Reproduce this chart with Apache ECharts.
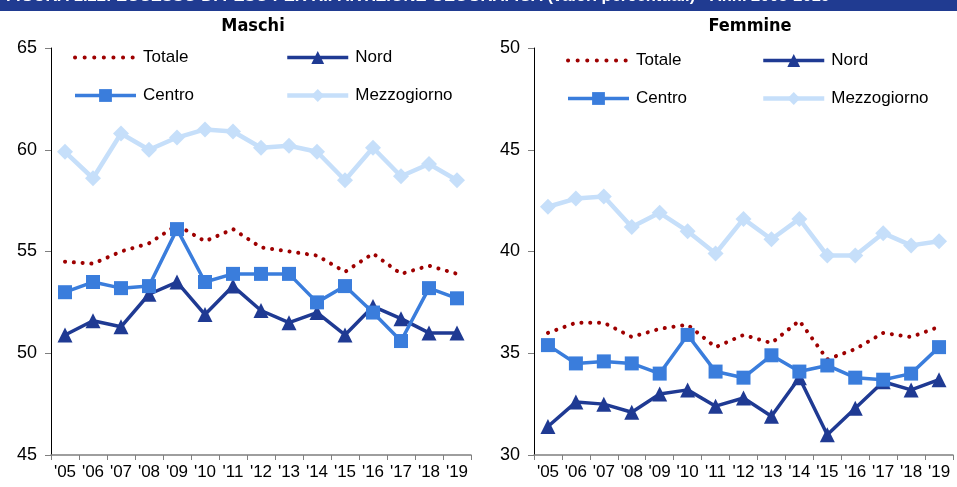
<!DOCTYPE html>
<html>
<head>
<meta charset="utf-8">
<script src="https://cdn.jsdelivr.net/npm/echarts@6/dist/echarts.min.js"></script>
<style>
  html, body { margin: 0; padding: 0; background: #fff; }
  #chart { width: 957px; height: 487px; }
</style>
</head>
<body>
<div id="chart"></div>
<script>
// Anni 2005-2019
const years = ["'05", "'06", "'07", "'08", "'09", "'10", "'11", "'12", "'13", "'14", "'15", "'16", "'17", "'18", "'19"];

// Maschi
const maschiTotale      = [54.5, 54.4, 55.0, 55.4, 56.3, 55.5, 56.1, 55.2, 55.0, 54.8, 54.0, 54.9, 53.9, 54.3, 53.9];
const maschiNord        = [50.9, 51.6, 51.3, 52.9, 53.5, 51.9, 53.3, 52.1, 51.5, 52.0, 50.9, 52.3, 51.7, 51.0, 51.0];
const maschiCentro      = [53.0, 53.5, 53.2, 53.3, 56.1, 53.5, 53.9, 53.9, 53.9, 52.5, 53.3, 52.0, 50.6, 53.2, 52.7];
const maschiMezzogiorno = [59.9, 58.6, 60.8, 60.0, 60.6, 61.0, 60.9, 60.1, 60.2, 59.9, 58.5, 60.1, 58.7, 59.3, 58.5];

// Femmine
const femmineTotale      = [36.0, 36.5, 36.5, 35.8, 36.2, 36.4, 35.3, 35.9, 35.5, 36.6, 34.7, 35.2, 36.0, 35.8, 36.3];
const femmineNord        = [31.4, 32.6, 32.5, 32.1, 33.0, 33.2, 32.4, 32.8, 31.9, 33.8, 31.0, 32.3, 33.6, 33.2, 33.7];
const femmineCentro      = [35.4, 34.5, 34.6, 34.5, 34.0, 35.9, 34.1, 33.8, 34.9, 34.1, 34.4, 33.8, 33.7, 34.0, 35.3];
const femmineMezzogiorno = [42.2, 42.6, 42.7, 41.2, 41.9, 41.0, 39.9, 41.6, 40.6, 41.6, 39.8, 39.8, 40.9, 40.3, 40.5];

const panelTitles = ['Maschi', 'Femmine'];
const headerText = 'FIGURA 1.22: ECCESSO DI PESO PER RIPARTIZIONE GEOGRAFICA (valori percentuali) - Anni 2005-2019';

const COLORS = {
  Totale: '#9e0000',
  Nord: '#1f3a93',
  Centro: '#3a7ddc',
  Mezzogiorno: '#c6dffa'
};
const LINE_WIDTH = { Totale: 4, Nord: 3.5, Centro: 3.5, Mezzogiorno: 4.5 };

const labelFont = 'Liberation Sans';
const grids = [
  { left: 51, top: 48, width: 420, height: 407 },
  { left: 534, top: 48, width: 419, height: 407 }
];

function xAxis(gridIndex) {
  return {
    type: 'category',
    gridIndex,
    data: years,
    boundaryGap: true,
    axisLine: { lineStyle: { color: '#7f7f7f', width: 1.5 } },
    axisTick: { show: true, length: 5, lineStyle: { color: '#7f7f7f' } },
    axisLabel: { color: '#000', fontFamily: labelFont, fontSize: 17, margin: 9, interval: 0 },
    splitLine: { show: false }
  };
}

function yAxis(gridIndex, min, max) {
  return {
    type: 'value',
    gridIndex,
    min, max, interval: 5,
    axisLine: { show: true, lineStyle: { color: '#000', width: 1 } },
    axisTick: { show: true, length: 6, lineStyle: { color: '#7f7f7f' } },
    axisLabel: { color: '#000', fontFamily: labelFont, fontSize: 18, margin: 14 },
    splitLine: { show: false }
  };
}

function series(name, data, idx) {
  const base = {
    name, type: 'line', data,
    xAxisIndex: idx, yAxisIndex: idx,
    color: COLORS[name],
    animation: false,
    emphasis: { disabled: true }
  };
  if (name === 'Totale') {
    return Object.assign(base, {
      symbol: 'none',
      lineStyle: { width: LINE_WIDTH[name], color: COLORS[name], type: [0.1, 8.7], cap: 'round' },
      z: 2
    });
  }
  if (name === 'Nord') {
    return Object.assign(base, {
      symbol: 'triangle', symbolSize: 15,
      itemStyle: { color: COLORS[name] },
      lineStyle: { width: LINE_WIDTH[name], color: COLORS[name] },
      z: 3
    });
  }
  if (name === 'Centro') {
    return Object.assign(base, {
      symbol: 'rect', symbolSize: 14,
      itemStyle: { color: COLORS[name] },
      lineStyle: { width: LINE_WIDTH[name], color: COLORS[name] },
      z: 4
    });
  }
  return Object.assign(base, {
    symbol: 'diamond', symbolSize: 16,
    itemStyle: { color: COLORS[name] },
    lineStyle: { width: LINE_WIDTH[name], color: COLORS[name] },
    z: 5
  });
}

function legendItem(name) {
  const item = { name, lineStyle: { width: LINE_WIDTH[name] } };
  if (name === 'Totale') {
    item.itemStyle = { opacity: 0 };
    item.lineStyle = { width: 4, type: [0.1, 9.5], cap: 'round' };
  }
  return item;
}

function legend(names, left, top) {
  return {
    data: names.map(legendItem),
    orient: 'vertical',
    left, top,
    padding: 0,
    itemWidth: 61, itemHeight: 16,
    itemGap: 21,
    selectedMode: false,
    textStyle: { color: '#000', fontFamily: labelFont, fontSize: 17, padding: [0, 0, 0, 2] }
  };
}

const chart = echarts.init(document.getElementById('chart'), null, { renderer: 'canvas' });

chart.setOption({
  backgroundColor: '#fff',
  animation: false,
  title: panelTitles.map((t, i) => ({
    text: t,
    left: i === 0 ? 248 : 745,
    top: 12,
    textAlign: 'center',
    textStyle: { fontFamily: 'DejaVu Sans Condensed', fontWeight: 'bold', fontSize: 18, color: '#000' }
  })),
  grid: grids,
  xAxis: [xAxis(0), xAxis(1)],
  yAxis: [yAxis(0, 45, 65), yAxis(1, 30, 50)],
  legend: [
    legend(['Totale', 'Centro'], 73, 49),
    legend(['Nord', 'Mezzogiorno'], 285, 49),
    legend(['Totale', 'Centro'], 566, 52),
    legend(['Nord', 'Mezzogiorno'], 761, 52)
  ],
  series: [
    series('Totale', maschiTotale, 0),
    series('Nord', maschiNord, 0),
    series('Centro', maschiCentro, 0),
    series('Mezzogiorno', maschiMezzogiorno, 0),
    series('Totale', femmineTotale, 1),
    series('Nord', femmineNord, 1),
    series('Centro', femmineCentro, 1),
    series('Mezzogiorno', femmineMezzogiorno, 1)
  ],
  graphic: [
    {
      type: 'rect',
      shape: { x: 0, y: 0, width: 957, height: 11 },
      style: { fill: '#203b91' },
      z: 10
    },
    {
      type: 'text',
      x: 6, y: -12,
      style: {
        text: headerText,
        fill: '#fff',
        font: 'bold 16.5px "Liberation Sans"',
        textVerticalAlign: 'top'
      },
      z: 11
    }
  ]
});
</script>
</body>
</html>
